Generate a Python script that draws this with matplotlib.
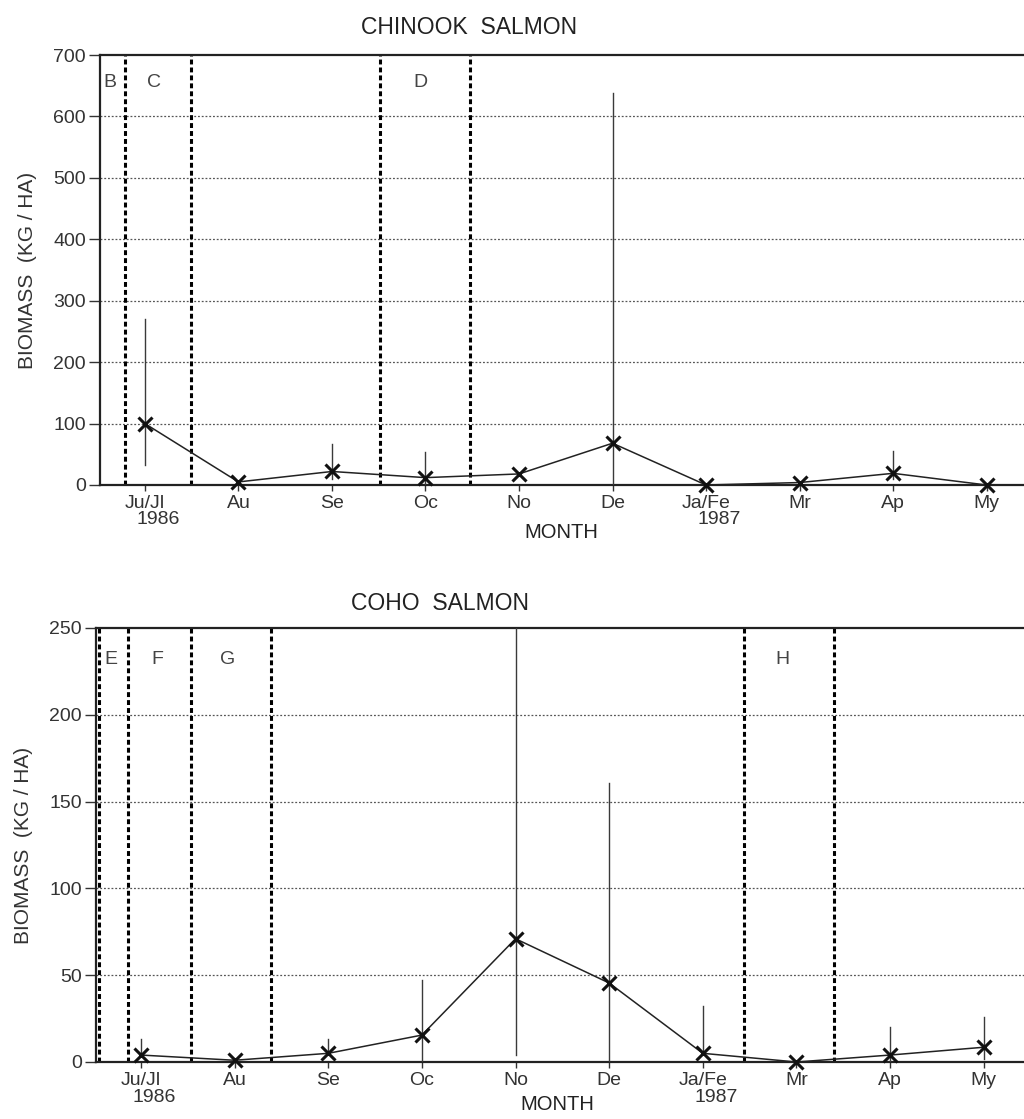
import matplotlib.pyplot as plt
import numpy as np

plt.rcParams['font.family'] = ['Liberation Sans', 'DejaVu Sans']

months = ['Ju/Jl', 'Au', 'Se', 'Oc', 'No', 'De', 'Ja/Fe', 'Mr', 'Ap', 'My']
years = {0: '1986', 6: '1987'}

# Chinook biomass (kg/ha): monthly means and error bar limits
chinook_mean = [100, 5, 22, 12, 18, 68, 0, 4, 19, 0]
chinook_low = [33, 5, 10, 0, 18, 0, 0, 4, 10, 0]
chinook_high = [270, 5, 67, 53, 18, 638, 0, 4, 55, 0]
chinook_bounds = [-0.21, 0.49, 2.51, 3.48]
chinook_zones = [(-0.37, 'B'), (0.1, 'C'), (2.95, 'D')]

# Coho biomass (kg/ha)
coho_mean = [4, 1, 5, 15.5, 71, 45.5, 5, 0, 4, 8.5]
coho_low = [4, 1, 5, 0, 4, 0, 5, 0, 0, 2]
coho_high = [13, 1, 13, 47, 260, 161, 32, 0, 20, 26]
coho_bounds = [-0.45, -0.14, 0.53, 1.39, 6.44, 7.4]
coho_zones = [(-0.32, 'E'), (0.17, 'F'), (0.93, 'G'), (6.85, 'H')]

ink = '#222222'
grey = '#333333'


def draw_panel(ax, mean, low, high, bounds, zones, ymax, ystep, zone_y, xmax,
               month_off):
    x = np.arange(len(months))
    ax.set_xlim(-0.48, xmax)
    ax.set_ylim(0, ymax)

    # horizontal dotted grid
    for yv in np.arange(ystep, ymax, ystep):
        ax.axhline(yv, color='#555555', lw=0.9, ls=(0, (1.5, 1.5)), zorder=1)

    # period boundaries
    for b in bounds:
        ax.axvline(b, color='black', lw=2.2, ls=(0, (1.6, 1.0)), zorder=2)
    for zx, zl in zones:
        ax.text(zx, zone_y, zl, ha='center', va='center', fontsize=14,
                color='#444444')

    # error bars
    for xi, lo, hi in zip(x, low, high):
        if hi > lo:
            ax.plot([xi, xi], [lo, hi], color='#3a3a3a', lw=1.0, zorder=3)

    ax.plot(x, mean, color=ink, lw=1.1, marker='x', ms=10, mew=2.2,
            mec='#111111', zorder=4, clip_on=False)

    ax.set_xticks(x)
    ax.set_xticklabels(months, fontsize=14, color=grey)
    ticks = np.arange(0, ymax + 1, ystep)
    ax.set_yticks(ticks)
    ax.set_yticklabels([str(int(v)) for v in ticks], fontsize=14, color=grey)
    ax.tick_params(axis='y', length=8, width=1, color=grey, pad=2)
    ax.tick_params(axis='x', length=4, width=1, color=grey, pad=3)

    # text below the month labels, offsets in pixels from the x axis
    h = ax.get_position().height * fig.get_figheight() * fig.dpi
    for xi, yr in years.items():
        ax.text(xi + 0.14, -35 / h, yr, transform=ax.get_xaxis_transform(),
                ha='center', va='center', fontsize=14, color=grey)
    ax.text(4.45, -month_off / h, 'MONTH', transform=ax.get_xaxis_transform(),
            ha='center', va='center', fontsize=14.5, color=ink)

    ax.spines['right'].set_visible(False)
    for s in ['left', 'bottom', 'top']:
        ax.spines[s].set_linewidth(1.6)
        ax.spines[s].set_color(ink)
    ax.set_ylabel('BIOMASS  (KG / HA)', fontsize=15, color=grey, labelpad=12)


fig = plt.figure(figsize=(10.24, 11.19), dpi=100)

ax1 = fig.add_axes([100 / 1024, 1 - 485 / 1119, 924 / 1024, 430 / 1119])
draw_panel(ax1, chinook_mean, chinook_low, chinook_high, chinook_bounds,
           chinook_zones, 700, 100, 655, 9.40, 48)
fig.text(469 / 1024, 1 - 28 / 1119, 'CHINOOK  SALMON', ha='center',
         va='center', fontsize=16.5, color=ink)

ax2 = fig.add_axes([96 / 1024, 1 - 1062 / 1119, 928 / 1024, 434 / 1119])
draw_panel(ax2, coho_mean, coho_low, coho_high, coho_bounds,
           coho_zones, 250, 50, 232, 9.43, 43)
fig.text(440 / 1024, 1 - 603 / 1119, 'COHO  SALMON', ha='center',
         va='center', fontsize=16.5, color=ink)

fig.savefig('out.png', dpi=100, facecolor='white')
